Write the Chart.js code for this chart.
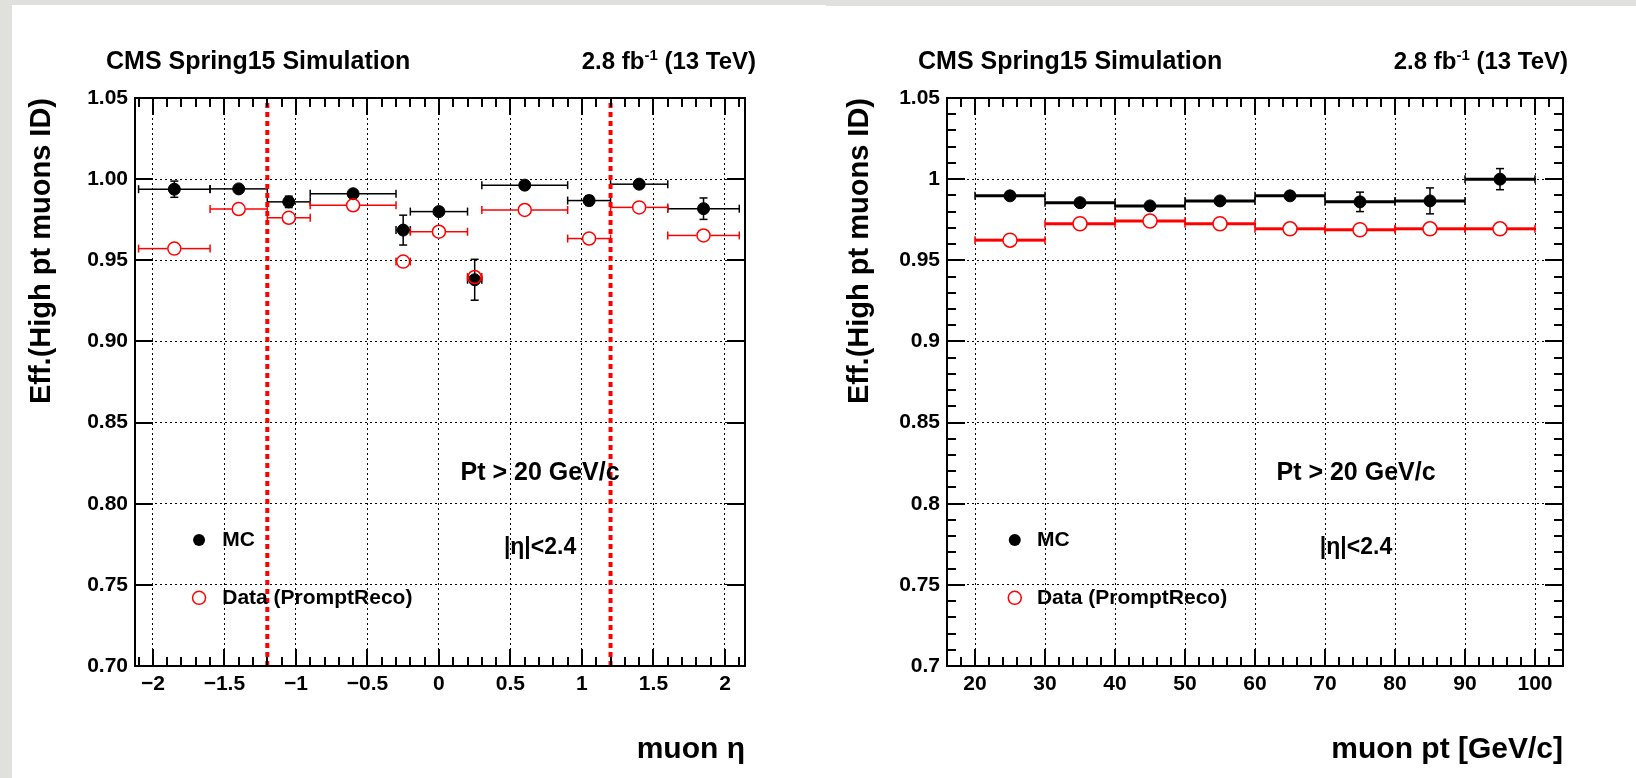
<!DOCTYPE html>
<html>
<head>
<meta charset="utf-8">
<script src="https://cdn.jsdelivr.net/npm/chart.js@4.4.1/dist/chart.umd.min.js"></script>
<style>
  html, body { margin: 0; padding: 0; background: #fff; }
  body { width: 1636px; height: 778px; position: relative; overflow: hidden; }
  .pad { position: absolute; top: 0; width: 818px; height: 778px; }
  .edge { position: absolute; background: #e0e0dc; }
</style>
</head>
<body>
<div class="edge" style="left:0;top:0;width:12px;height:778px"></div>
<div class="edge" style="left:0;top:0;width:826px;height:5px"></div>
<div class="edge" style="left:826px;top:0;width:810px;height:6px"></div>
<canvas id="etaChart" class="pad" style="left:0" width="818" height="778"></canvas>
<canvas id="ptChart" class="pad" style="left:818px" width="818" height="778"></canvas>
<script>
const FONT = "'Liberation Sans', Arial, Helvetica, sans-serif";

// efficiency vs eta
const etaCenters = [-1.85, -1.4, -1.05, -0.6, -0.25, 0, 0.25, 0.6, 1.05, 1.4, 1.85];
const etaLow     = [-2.1, -1.6, -1.2, -0.9, -0.3, -0.2, 0.2, 0.3, 0.9, 1.2, 1.6];
const etaHigh    = [-1.6, -1.2, -0.9, -0.3, -0.2, 0.2, 0.3, 0.9, 1.2, 1.6, 2.1];
const etaMC      = [0.9938, 0.9940, 0.9860, 0.9910, 0.9686, 0.9800, 0.9380, 0.9963, 0.9868, 0.9969, 0.9818];
const etaMCErr   = [0.0050, 0.0020, 0.0035, 0.0020, 0.0092, 0.0020, 0.0126, 0.0020, 0.0030, 0.0020, 0.0066];
const etaData    = [0.9572, 0.9816, 0.9762, 0.9839, 0.9492, 0.9676, 0.9397, 0.9810, 0.9634, 0.9826, 0.9653];
const etaDataErr = [0.0015, 0.0012, 0.0015, 0.0010, 0.0020, 0.0012, 0.0030, 0.0010, 0.0015, 0.0012, 0.0015];
const etaCuts    = [-1.2, 1.2];
const etaTicks   = [-2, -1.5, -1, -0.5, 0, 0.5, 1, 1.5, 2];

// efficiency vs pt
const ptCenters  = [25, 35, 45, 55, 65, 75, 85, 95];
const ptLow      = [20, 30, 40, 50, 60, 70, 80, 90];
const ptHigh     = [30, 40, 50, 60, 70, 80, 90, 100];
const ptMC       = [0.9897, 0.9855, 0.9835, 0.9866, 0.9897, 0.9860, 0.9866, 1.0000];
const ptMCErr    = [0.0015, 0.0015, 0.0015, 0.0015, 0.0020, 0.0060, 0.0080, 0.0065];
const ptData     = [0.9624, 0.9725, 0.9742, 0.9725, 0.9694, 0.9688, 0.9694, 0.9694];
const ptDataErr  = [0.0010, 0.0010, 0.0010, 0.0010, 0.0010, 0.0010, 0.0010, 0.0010];
const ptTicks    = [20, 30, 40, 50, 60, 70, 80, 90, 100];

const effTicks = [0.70, 0.75, 0.80, 0.85, 0.90, 0.95, 1.00, 1.05];
const effMin = 0.70, effMax = 1.05;

function points(xs, ys, lo, hi, err) {
  return xs.map((x, i) => ({ x: x, y: ys[i], xl: lo[i], xh: hi[i], ey: err[i] }));
}

// ROOT-like error bars, drawn under the markers with a gap around them
const errorBars = {
  id: 'errorBars',
  beforeDatasetsDraw(chart) {
    const { ctx } = chart;
    const xs = chart.scales.x, ys = chart.scales.y;
    const seg = (a, b, c, d) => { ctx.beginPath(); ctx.moveTo(a, b); ctx.lineTo(c, d); ctx.stroke(); };
    ctx.save();
    chart.data.datasets.forEach(ds => {
      if (!ds.err) return;
      ctx.strokeStyle = ds.borderColor;
      const g = ds.err.gap, cap = 4;
      ds.data.forEach(p => {
        const px = xs.getPixelForValue(p.x), py = ys.getPixelForValue(p.y);
        const x0 = xs.getPixelForValue(p.xl), x1 = xs.getPixelForValue(p.xh);
        const yTop = ys.getPixelForValue(p.y + p.ey), yBot = ys.getPixelForValue(p.y - p.ey);
        ctx.lineWidth = ds.err.hWidth;
        seg(x0, py, px - g, py);
        seg(px + g, py, x1, py);
        ctx.lineWidth = ds.err.capWidth;
        seg(x0, py - cap, x0, py + cap);
        seg(x1, py - cap, x1, py + cap);
        if (py - yTop > g) {
          seg(px, yTop, px, py - g);
          seg(px, yBot, px, py + g);
          seg(px - cap, yTop, px + cap, yTop);
          seg(px - cap, yBot, px + cap, yBot);
        }
      });
    });
    ctx.restore();
  }
};

// frame with inward ticks on all four sides
const rootFrame = {
  id: 'rootFrame',
  afterDatasetsDraw(chart, args, o) {
    const { ctx, chartArea: ca } = chart;
    const xs = chart.scales.x, ys = chart.scales.y;
    ctx.save();
    ctx.strokeStyle = '#000';
    ctx.lineWidth = 2;
    ctx.strokeRect(ca.left, ca.top, ca.right - ca.left, ca.bottom - ca.top);
    const near = (v, arr) => arr.some(t => Math.abs(t - v) < 1e-6);
    const xTick = (v, len) => {
      const p = Math.round(xs.getPixelForValue(v));
      if (p <= ca.left + 1 || p >= ca.right - 1) return;
      ctx.beginPath();
      ctx.moveTo(p, ca.bottom); ctx.lineTo(p, ca.bottom - len);
      ctx.moveTo(p, ca.top); ctx.lineTo(p, ca.top + len);
      ctx.stroke();
    };
    const yTick = (v, len) => {
      const p = Math.round(ys.getPixelForValue(v));
      if (p <= ca.top + 1 || p >= ca.bottom - 1) return;
      ctx.beginPath();
      ctx.moveTo(ca.left, p); ctx.lineTo(ca.left + len, p);
      ctx.moveTo(ca.right, p); ctx.lineTo(ca.right - len, p);
      ctx.stroke();
    };
    o.xMajor.forEach(v => xTick(v, 17));
    for (let v = Math.ceil(xs.min / o.xMinor) * o.xMinor; v <= xs.max; v += o.xMinor) {
      if (!near(v, o.xMajor)) xTick(v, 9);
    }
    o.yMajor.forEach(v => yTick(v, 18));
    if (o.yMinor) {
      for (let v = ys.min; v <= ys.max + 1e-9; v += o.yMinor) {
        if (!near(+v.toFixed(4), o.yMajor)) yTick(v, 9);
      }
    }
    ctx.restore();
  }
};

// header, legend and cut labels
const labels = {
  id: 'labels',
  afterDraw(chart, args, o) {
    const { ctx, chartArea: ca } = chart;
    const w = ca.right - ca.left, h = ca.bottom - ca.top;
    ctx.save();
    ctx.fillStyle = '#000';
    ctx.textBaseline = 'alphabetic';
    ctx.textAlign = 'left';
    ctx.font = 'bold 25px ' + FONT;
    ctx.fillText('CMS Spring15 Simulation', ca.left - 29, 69);

    const right = ca.right + o.lumiShift;
    const tail = ' (13 TeV)', head = '2.8 fb', sup = '-1';
    ctx.font = 'bold 24px ' + FONT;
    const wTail = ctx.measureText(tail).width, wHead = ctx.measureText(head).width;
    ctx.font = 'bold 15px ' + FONT;
    const wSup = ctx.measureText(sup).width;
    ctx.fillText(sup, right - wTail - wSup, 60);
    ctx.font = 'bold 24px ' + FONT;
    ctx.fillText(tail, right - wTail, 69);
    ctx.fillText(head, right - wTail - wSup - wHead, 69);

    ctx.textAlign = 'center';
    ctx.textBaseline = 'middle';
    ctx.font = 'bold 25px ' + FONT;
    ctx.fillText('Pt > 20 GeV/c', ca.left + 0.664 * w, ca.top + 0.66 * h);
    ctx.font = 'bold 23px ' + FONT;
    ctx.fillText('|\u03b7|<2.4', ca.left + 0.664 * w, ca.top + 0.792 * h);

    const mx = ca.left + o.legendMarker * w, tx = ca.left + o.legendText * w;
    const y1 = ca.top + 0.778 * h, y2 = ca.top + 0.880 * h;
    ctx.beginPath(); ctx.arc(mx, y1, 6, 0, 2 * Math.PI); ctx.fill();
    ctx.strokeStyle = '#ff0000'; ctx.lineWidth = 1.5;
    ctx.beginPath(); ctx.arc(mx, y2, 6.5, 0, 2 * Math.PI); ctx.stroke();
    ctx.textAlign = 'left';
    ctx.font = 'bold 21px ' + FONT;
    ctx.fillText('MC', tx, y1);
    ctx.fillText('Data (PromptReco)', tx, y2);
    ctx.restore();
  }
};

function makeChart(id, cfg) {
  const mcStyle = { hWidth: cfg.hWidth, capWidth: 1.5, gap: 0 };
  const dataStyle = { hWidth: cfg.hWidth, capWidth: 1.5, gap: 7 };
  const datasets = [
    {
      label: 'MC', data: cfg.mc, order: 2,
      pointRadius: 6, pointBackgroundColor: '#000', borderColor: '#000', pointBorderWidth: 1,
      showLine: false, err: mcStyle
    },
    {
      label: 'Data (PromptReco)', data: cfg.data, order: 1,
      pointRadius: cfg.dataRadius, pointBackgroundColor: 'rgba(0,0,0,0)', borderColor: '#ff0000', pointBorderWidth: 1.5,
      showLine: false, err: dataStyle
    }
  ];
  (cfg.cuts || []).forEach(c => datasets.push({
    label: 'cut', data: [{ x: c, y: effMin }, { x: c, y: effMax }], order: 0,
    showLine: true, borderColor: '#ff0000', borderWidth: 4, borderDash: [5, 4], pointRadius: 0
  }));

  return new Chart(document.getElementById(id), {
    type: 'scatter',
    data: { datasets },
    plugins: [errorBars, rootFrame, labels],
    options: {
      responsive: false,
      animation: false,
      layout: { padding: { top: 98, right: 73, left: 0, bottom: 0 } },
      plugins: {
        legend: { display: false },
        tooltip: { enabled: false },
        rootFrame: { xMajor: cfg.xTicks, xMinor: cfg.xMinor, yMajor: effTicks, yMinor: cfg.yMinor },
        labels: { lumiShift: cfg.lumiShift, legendMarker: cfg.legendMarker, legendText: cfg.legendText }
      },
      scales: {
        x: {
          type: 'linear', min: cfg.xMin, max: cfg.xMax,
          afterFit: s => { s.height = 112; },
          afterBuildTicks: s => { s.ticks = cfg.xTicks.map(v => ({ value: v })); },
          grid: { color: '#000', lineWidth: 1, drawTicks: false },
          border: { display: false, dash: [2, 3] },
          ticks: {
            padding: 6, color: '#000', maxRotation: 0, autoSkip: false,
            font: { family: FONT, size: 21, weight: 'bold' },
            callback: v => (v < 0 ? '\u2212' + Math.abs(v) : String(v))
          },
          title: {
            display: true, text: cfg.xTitle, align: 'end', color: '#000',
            font: { family: FONT, size: 30, weight: 'bold' }, padding: { top: 0, bottom: 10 }
          }
        },
        y: {
          type: 'linear', min: effMin, max: effMax,
          afterFit: s => { s.width = cfg.yWidth; },
          afterBuildTicks: s => { s.ticks = effTicks.map(v => ({ value: v })); },
          grid: { color: '#000', lineWidth: 1, drawTicks: false },
          border: { display: false, dash: [2, 3] },
          ticks: {
            padding: 7, color: '#000', autoSkip: false,
            font: { family: FONT, size: 21, weight: 'bold' },
            callback: cfg.yFormat
          },
          title: {
            display: true, text: 'Eff.(High pt muons ID)', align: 'end', color: '#000',
            font: { family: FONT, size: 29, weight: 'bold' }, padding: { top: 25, bottom: 0 }
          }
        }
      }
    }
  });
}

makeChart('etaChart', {
  mc: points(etaCenters, etaMC, etaLow, etaHigh, etaMCErr),
  data: points(etaCenters, etaData, etaLow, etaHigh, etaDataErr),
  cuts: etaCuts,
  xMin: -2.125, xMax: 2.14, xTicks: etaTicks, xMinor: 0.1, yMinor: null,
  xTitle: 'muon \u03b7', yWidth: 135, hWidth: 1.5, dataRadius: 6.5,
  yFormat: v => v.toFixed(2),
  lumiShift: 11, legendMarker: 0.105, legendText: 0.143
});

makeChart('ptChart', {
  mc: points(ptCenters, ptMC, ptLow, ptHigh, ptMCErr),
  data: points(ptCenters, ptData, ptLow, ptHigh, ptDataErr),
  xMin: 16, xMax: 104, xTicks: ptTicks, xMinor: 2, yMinor: 0.01,
  xTitle: 'muon pt [GeV/c]', yWidth: 129, hWidth: 3, dataRadius: 7,
  yFormat: v => String(parseFloat(v.toFixed(2))),
  lumiShift: 5, legendMarker: 0.110, legendText: 0.146
});
</script>
</body>
</html>
